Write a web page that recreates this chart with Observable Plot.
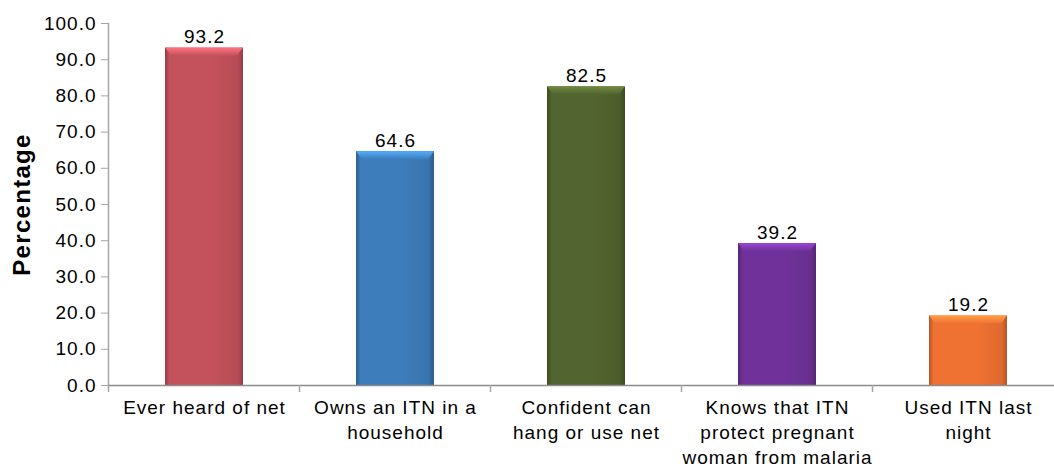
<!DOCTYPE html>
<html>
<head>
<meta charset="utf-8">
<script src="https://cdn.jsdelivr.net/npm/d3@7"></script>
<script src="https://cdn.jsdelivr.net/npm/@observablehq/plot@0.6"></script>
<style>
  html, body { margin: 0; padding: 0; background: #fff; }
  #chart svg { display: block; }
  #chart svg text { letter-spacing: 1px; }
  #chart svg g.ytitle text { letter-spacing: 1.3px; }
</style>
</head>
<body>
<div id="chart"></div>
<script>
const categories = [
  "Ever heard of net",
  "Owns an ITN in a\nhousehold",
  "Confident can\nhang or use net",
  "Knows that ITN\nprotect pregnant\nwoman from malaria",
  "Used ITN last\nnight"
];
const values = [93.2, 64.6, 82.5, 39.2, 19.2];
const colors = ["#C4525C", "#3D7DBB", "#52642F", "#70329A", "#F07232"];
const yTicks = [0, 10, 20, 30, 40, 50, 60, 70, 80, 90, 100];

const data = categories.map((c, i) => ({cat: c, value: values[i], color: colors[i], grad: `url(#barGrad${i})`}));

const font = "'Liberation Sans', Arial, Helvetica, sans-serif";

const plot = Plot.plot({
  width: 1054,
  height: 467,
  marginLeft: 108,
  marginRight: 0,
  marginTop: 23,
  marginBottom: 82,
  style: {fontFamily: font, fontSize: "19px", background: "#fff", color: "#000"},
  x: {domain: categories, range: [108, 1064], paddingInner: 0.59, paddingOuter: 0.295, label: null},
  y: {domain: [0, 100], label: null},
  color: {type: "identity"},
  marks: [
    Plot.axisY(yTicks, {tickFormat: d => d.toFixed(1), tickSize: 7, tickPadding: 5, stroke: "#a6a6a6", fontSize: 19, label: null}),
    Plot.axisX({tickSize: 0, tickPadding: 11, fontSize: 19, lineHeight: 1.32, label: null}),
    Plot.frame({anchor: "left", stroke: "#a6a6a6", strokeWidth: 1.5}),
    Plot.barY(data, {x: "cat", y: "value", fill: "grad"}),
    Plot.ruleY([0], {stroke: "#8c8c8c", strokeWidth: 1.5}),
    Plot.text(data, {x: "cat", y: "value", text: d => d.value.toFixed(1), dy: -5, lineAnchor: "bottom", fontSize: 19, fill: "#000"}),
    Plot.text(["Percentage"], {frameAnchor: "left", textAnchor: "middle", dx: -86, dy: 0, rotate: -90, fontWeight: "bold", fontSize: 24, fill: "#000", className: "ytitle"})
  ]
});

// gradients for the bars
const svg = d3.select(plot);
const defs = svg.insert("defs", ":first-child");
colors.forEach((c, i) => {
  const g = defs.append("linearGradient").attr("id", `barGrad${i}`).attr("x1", 0).attr("x2", 1).attr("y1", 0).attr("y2", 0);
  const dark = d3.color(c).darker(0.8).formatHex();
  const mid = d3.color(c).darker(0.2).formatHex();
  g.append("stop").attr("offset", 0).attr("stop-color", dark);
  g.append("stop").attr("offset", 0.06).attr("stop-color", c);
  g.append("stop").attr("offset", 0.6).attr("stop-color", c);
  g.append("stop").attr("offset", 0.93).attr("stop-color", mid);
  g.append("stop").attr("offset", 1).attr("stop-color", dark);
  const t = defs.append("linearGradient").attr("id", `topGrad${i}`).attr("x1", 0).attr("x2", 0).attr("y1", 0).attr("y2", 1);
  t.append("stop").attr("offset", 0).attr("stop-color", d3.color(c).brighter(0.9).formatHex());
  t.append("stop").attr("offset", 1).attr("stop-color", c);
});

// bevel highlight on top of each bar
svg.selectAll('g[aria-label="bar"] rect').each(function(d, j) {
  const r = d3.select(this);
  const x = +r.attr("x"), y = +r.attr("y"), w = +r.attr("width");
  const h = 8, inset = 6;
  d3.select(this.parentNode).append("polygon")
    .attr("points", `${x},${y} ${x + w},${y} ${x + w - inset},${y + h} ${x + inset},${y + h}`)
    .attr("fill", `url(#topGrad${j})`);
});

// tick marks at the category boundaries
const sx = plot.scale("x");
const y0 = plot.scale("y").apply(0);
const gap = (sx.step - sx.bandwidth) / 2;
const bounds = categories.map(c => sx.apply(c) - gap);
bounds.push(sx.apply(categories[categories.length - 1]) + sx.bandwidth + gap);
const tg = svg.append("g").attr("stroke", "#a6a6a6").attr("stroke-width", 1.5);
bounds.forEach(b => tg.append("line").attr("x1", b).attr("x2", b).attr("y1", y0).attr("y2", y0 + 7));

document.getElementById("chart").appendChild(plot);
</script>
</body>
</html>
